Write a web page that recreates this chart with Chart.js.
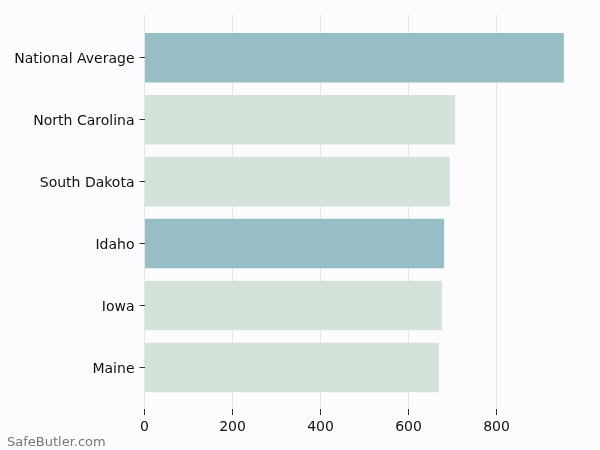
<!DOCTYPE html>
<html>
<head>
<meta charset="utf-8">
<script src="https://cdn.jsdelivr.net/npm/chart.js@4/dist/chart.umd.min.js"></script>
<style>
  html, body { margin: 0; padding: 0; background: #fcfcfe; }
  #wrap { width: 600px; height: 450px; position: relative; }
</style>
</head>
<body>
<div id="wrap"><canvas id="chart"></canvas></div>
<script>
// Values
const states = ['National Average', 'North Carolina', 'South Dakota', 'Idaho', 'Iowa', 'Maine'];
const premiums = [953, 706, 694, 681, 676, 669];
const barColors = ['#97bdc5', '#d5e2d9', '#d5e2d9', '#97bdc5', '#d5e2d9', '#d5e2d9'];
const xTicks = [0, 200, 400, 600, 800];

const watermark = {
    id: 'watermark',
    afterDraw(chart) {
        const ctx = chart.ctx;
        ctx.save();
        ctx.font = '13px "DejaVu Sans"';
        ctx.fillStyle = '#777';
        ctx.textBaseline = 'alphabetic';
        ctx.fillText('SafeButler.com', 7, 446);
        ctx.restore();
    }
};

const font = { family: '"DejaVu Sans"', size: 14 };

new Chart(document.getElementById('chart'), {
    type: 'bar',
    data: {
        datasets: [{
            data: premiums.map((v, i) => ({ x: v, y: i })),
            backgroundColor: barColors,
            borderWidth: 0,
            categoryPercentage: 0.8,
            barPercentage: 1
        }]
    },
    options: {
        indexAxis: 'y',
        responsive: true,
        maintainAspectRatio: false,
        animation: false,
        layout: { padding: { left: 0, right: 15.5, top: 15, bottom: 0 } },
        plugins: {
            legend: { display: false },
            tooltip: { enabled: false }
        },
        scales: {
            x: {
                type: 'linear',
                min: 0,
                max: 1000,
                offset: false,
                afterBuildTicks: s => { s.ticks = xTicks.map(v => ({ value: v })); },
                afterFit: s => { s.height = 41; },
                grid: { color: '#e6e6e6', tickColor: '#333', tickLength: 6, offset: false },
                border: { display: false },
                ticks: { font, color: '#111', padding: 4, maxRotation: 0 }
            },
            y: {
                type: 'linear',
                reverse: true,
                min: -0.69,
                max: 5.67,
                offset: false,
                afterBuildTicks: s => { s.ticks = states.map((_, i) => ({ value: i })); },
                afterFit: s => { s.width = 144.5; },
                grid: { drawOnChartArea: false, tickColor: '#333', tickLength: 5, offset: false },
                border: { display: false },
                ticks: { font, color: '#111', padding: 5, labelOffset: 2, callback: v => states[v] }
            }
        }
    },
    plugins: [watermark]
});
</script>
</body>
</html>
